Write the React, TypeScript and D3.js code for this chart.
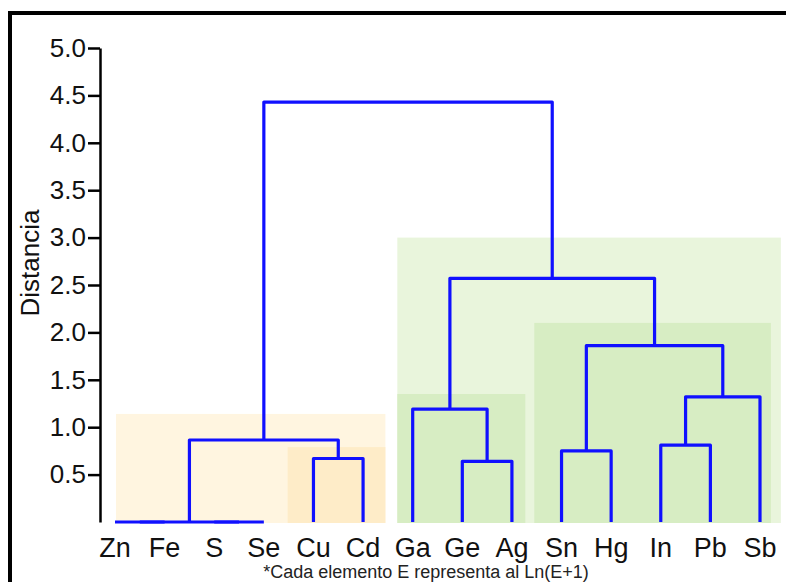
import React, { useEffect, useRef } from 'react';
import * as d3 from 'd3';

// leaf order along the bottom
const leaves = ['Zn', 'Fe', 'S', 'Se', 'Cu', 'Cd', 'Ga', 'Ge', 'Ag', 'Sn', 'Hg', 'In', 'Pb', 'Sb'];

// merges: [left id, right id, distance]; ids 0..13 are leaves, 14+ are earlier merges
const merges: [number, number, number][] = [
  [0, 1, 0],
  [2, 3, 0],
  [14, 15, 0],
  [4, 5, 0.67],
  [16, 17, 0.865],
  [7, 8, 0.64],
  [6, 19, 1.19],
  [9, 10, 0.75],
  [11, 12, 0.81],
  [22, 13, 1.32],
  [21, 23, 1.86],
  [20, 24, 2.57],
  [18, 25, 4.43],
];

// shaded groups: [from leaf index, to leaf index, top distance, colour]
const groups: [number, number, number, string][] = [
  [0.02, 5.45, 1.14, '#fff5e0'],
  [3.48, 5.45, 0.79, '#feecc8'],
  [5.69, 13.42, 3.0, '#e9f5dc'],
  [5.69, 8.27, 1.35, '#d7edc3'],
  [8.45, 13.22, 2.1, '#d7edc3'],
];

const yTicks = [0.5, 1.0, 1.5, 2.0, 2.5, 3.0, 3.5, 4.0, 4.5, 5.0];

const W = 786;
const H = 582;

function Dendrogram() {
  const ref = useRef<SVGSVGElement>(null);

  useEffect(() => {
    const svg = d3.select(ref.current);
    svg.selectAll('*').remove();

    const font = 'Liberation Sans, Arial, sans-serif';

    const x = d3.scalePoint<string>().domain(leaves).range([115, 760]);
    const xi = d3.scaleLinear().domain([0, leaves.length - 1]).range([115, 760]);
    const y = d3.scaleLinear().domain([0, 5]).range([522, 48]);

    // frame
    svg.append('rect')
      .attr('x', 10).attr('y', 13)
      .attr('width', W + 20).attr('height', H + 20)
      .attr('fill', 'white')
      .attr('stroke', 'black')
      .attr('stroke-width', 4);

    // shaded groups
    svg.append('g')
      .selectAll('rect')
      .data(groups)
      .enter()
      .append('rect')
        .attr('x', d => xi(d[0]))
        .attr('width', d => xi(d[1]) - xi(d[0]))
        .attr('y', d => y(d[2]))
        .attr('height', d => y(0) + 1 - y(d[2]))
        .attr('fill', d => d[3]);

    // y axis
    const axis = svg.append('g')
      .attr('transform', 'translate(100,0)')
      .call(d3.axisLeft(y).tickValues(yTicks).tickFormat(d3.format('.1f')).tickSize(12).tickSizeOuter(0).tickPadding(2));
    axis.select('.domain').attr('stroke-width', 2.5);
    axis.selectAll('.tick line').attr('stroke-width', 2.5);
    axis.selectAll('.tick text')
      .attr('font-family', font)
      .attr('font-size', '26px')
      .attr('fill', '#111');

    svg.append('text')
      .text('Distancia')
      .attr('transform', `translate(39,${263}) rotate(-90)`)
      .attr('text-anchor', 'middle')
      .attr('font-family', font)
      .attr('font-size', '26px')
      .attr('fill', '#111');

    // dendrogram links
    const nodeX: number[] = leaves.map(l => x(l) as number);
    const nodeH: number[] = leaves.map(() => 0);
    const links = svg.append('g')
      .attr('fill', 'none')
      .attr('stroke', '#1010ff')
      .attr('stroke-width', 3.2)
      .attr('stroke-linejoin', 'round');
    merges.forEach(([a, b, h]) => {
      const p = d3.path();
      p.moveTo(nodeX[a], y(nodeH[a]));
      p.lineTo(nodeX[a], y(h));
      p.lineTo(nodeX[b], y(h));
      p.lineTo(nodeX[b], y(nodeH[b]));
      links.append('path').attr('d', p.toString());
      nodeX.push((nodeX[a] + nodeX[b]) / 2);
      nodeH.push(h);
    });

    // leaf labels
    svg.append('g')
      .selectAll('text')
      .data(leaves)
      .enter()
      .append('text')
        .text(d => d)
        .attr('x', d => x(d) as number)
        .attr('y', 557)
        .attr('text-anchor', 'middle')
        .attr('font-family', font)
        .attr('font-size', '27px')
        .attr('fill', '#111');

    svg.append('text')
      .text('*Cada elemento E representa al Ln(E+1)')
      .attr('x', 426)
      .attr('y', 578)
      .attr('text-anchor', 'middle')
      .attr('font-family', font)
      .attr('font-size', '18px')
      .attr('fill', '#222');
  }, []);

  return <svg ref={ref} width={W} height={H} style={{ position: 'absolute', left: 0, top: 0 }} />;
}

export default function App() {
  return <Dendrogram />;
}
